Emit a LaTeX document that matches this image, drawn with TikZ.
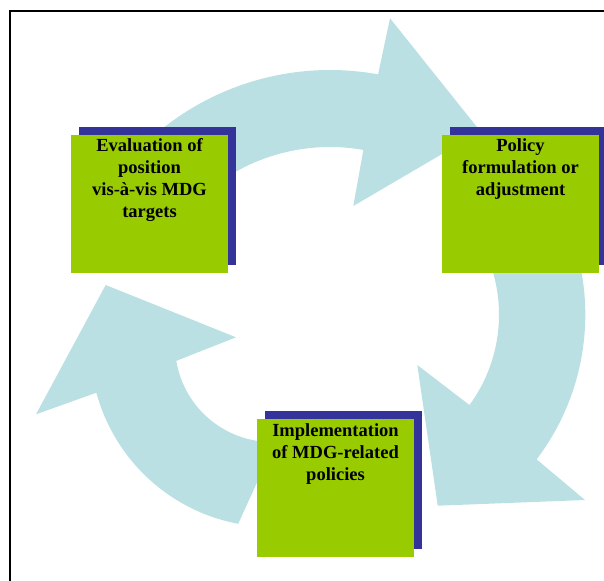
\documentclass[tikz,border=0pt]{standalone}
\usepackage{fontspec}
\setmainfont{Liberation Serif}
\usetikzlibrary{shadows}
\definecolor{arrowblue}{HTML}{BBE0E3}
\definecolor{boxgreen}{HTML}{99CC00}
\definecolor{shadowblue}{HTML}{333399}
\begin{document}
\begin{tikzpicture}[x=1pt,y=1pt,
  cyclearrow/.style={fill=arrowblue, draw=none},
  gbox/.style={fill=boxgreen, draw=none, minimum width=157pt, minimum height=138pt,
    inner sep=0pt, outer sep=0pt,
    general shadow={fill=shadowblue, shadow xshift=8pt, shadow yshift=8pt}},
  txt/.style={font=\bfseries\fontsize{18.5}{22}\selectfont, align=center, inner sep=0pt, anchor=north},
  frameline/.style={line width=1.3pt, black}]
\useasboundingbox (0,0) rectangle (604,-580);
\draw[frameline] (10,-582) -- (10,-11) -- (606,-11);

\coordinate (tc) at (330,-339);
\coordinate (rc) at (346,-314.7);
\coordinate (lc) at (272,-345);

% top arrow
\fill[cyclearrow] ([shift={(133:269pt)}]tc) arc[start angle=133, end angle=79.7, radius=269pt]
  -- (390,-18.3) -- (480.5,-131.5) -- (353.3,-206)
  -- ([shift={(80:192pt)}]tc) arc[start angle=80, end angle=133, radius=192pt] -- cycle;

% right arrow
\fill[cyclearrow] ([shift={(20:239.3pt)}]rc) arc[start angle=20, end angle=-37.2, radius=239.3pt]
  -- (585,-500) -- (437.7,-505.7) -- (417.3,-365)
  -- ([shift={(-36.2:153pt)}]rc) arc[start angle=-36.2, end angle=20, radius=153pt] -- cycle;

% left arrow
\fill[cyclearrow] ([shift={(259.3:182pt)}]lc) arc[start angle=259.3, end angle=195.2, radius=182pt]
  -- (36,-414.3) -- (105.7,-285) -- (236,-337.3)
  -- ([shift={(189.4:97pt)}]lc) arc[start angle=189.4, end angle=272, radius=97pt] -- cycle;

% boxes
\node[gbox] (eval) at (149.5,-204) {};
\node[gbox] (policy) at (520.5,-204) {};
\node[gbox] (impl) at (335.5,-488) {};

% texts
\node[txt] (evalt) at ([yshift=-3pt]eval.north) {Evaluation of\\position\\vis-à-vis MDG\\targets};
\node[txt] (policyt) at ([yshift=-3pt]policy.north) {Policy\\formulation or\\adjustment};
\node[txt] (implt) at ([yshift=-4pt]impl.north) {Implementation\\of MDG-related\\policies};
\end{tikzpicture}
\end{document}
